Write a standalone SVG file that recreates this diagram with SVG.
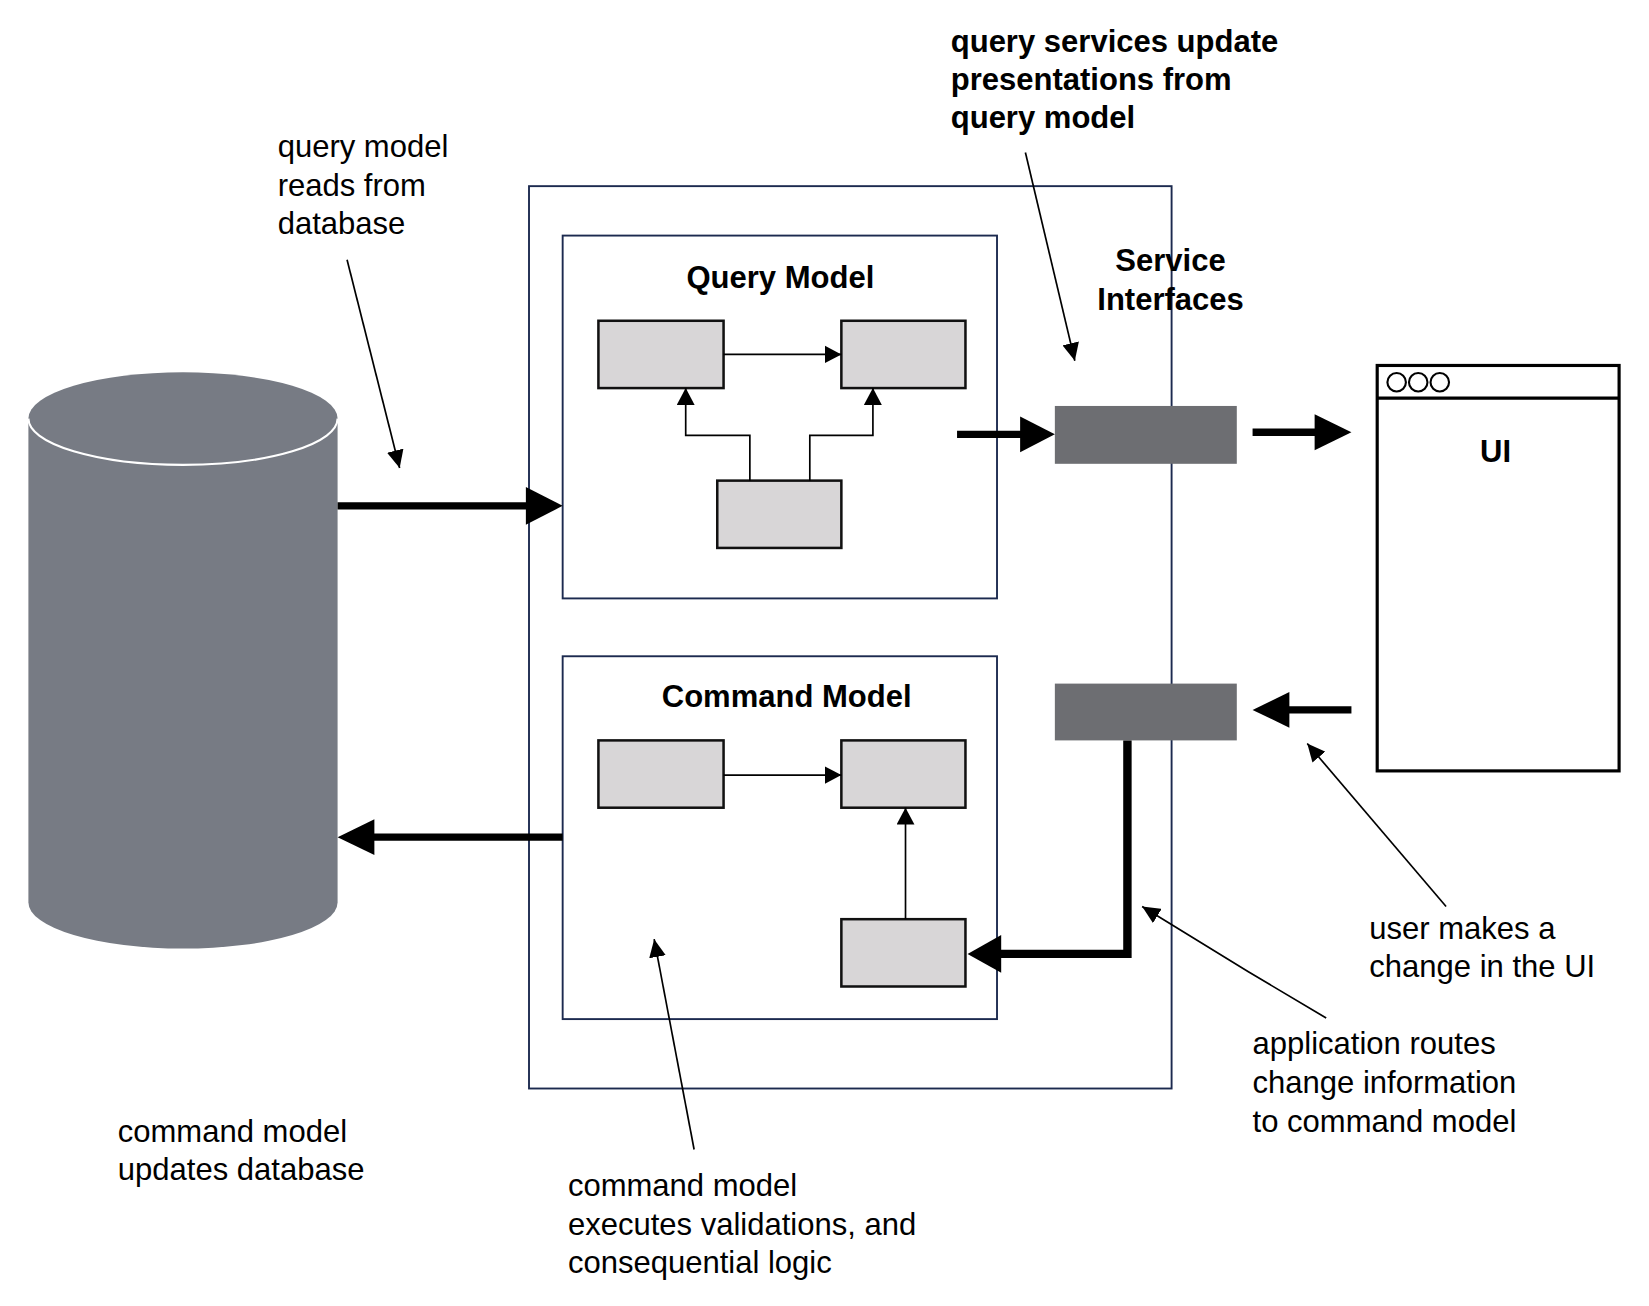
<svg xmlns="http://www.w3.org/2000/svg" width="1649" height="1306" viewBox="0 0 1649 1306">
<style>
  .txt { font-family: "Liberation Sans", Arial, sans-serif; font-size: 29.5px; fill: #000; }
  .bold { font-weight: bold; }
  .frame { fill: #fff; stroke: #1c2a4f; stroke-width: 1.8; }
  .comp { fill: #d8d6d7; stroke: #111; stroke-width: 2.4; }
  .svc { fill: #6d6e72; }
  .thin { fill: none; stroke: #000; stroke-width: 1.6; }
  .thick { fill: none; stroke: #000; stroke-width: 7; }
  .head { fill: #000; }
</style>
<defs>
  <marker id="ah" markerUnits="userSpaceOnUse" markerWidth="18" markerHeight="16" refX="17" refY="8" orient="auto">
    <path d="M0,0 L17,8 L0,16 Z" fill="#000"/>
  </marker>
  <marker id="ai" markerUnits="userSpaceOnUse" markerWidth="18" markerHeight="18" refX="16" refY="8.5" orient="auto">
    <path d="M0,0 L16,8.5 L0,17 Z" fill="#000"/>
  </marker>
</defs>
<rect width="1649" height="1306" fill="#fff"/>
<g transform="scale(1.0517)">
  <g id="database">
    <path d="M27,398 L27,858 A147,44 0 0 0 321,858 L321,398 Z" fill="#777b84"/>
    <ellipse cx="174" cy="398" rx="147" ry="44" fill="#777b84"/>
    <path d="M27,398 A147,44 0 0 0 321,398" fill="none" stroke="#fff" stroke-width="2"/>
  </g>

  <g id="application">
    <rect class="frame" x="503" y="177" width="611" height="858"/>
  </g>

  <g id="query-model">
    <rect class="frame" x="535" y="224" width="413" height="345"/>
    <text class="txt bold" x="742" y="274" text-anchor="middle">Query Model</text>
    <rect class="comp" x="569" y="305" width="119" height="64"/>
    <rect class="comp" x="800" y="305" width="118" height="64"/>
    <rect class="comp" x="682" y="457" width="118" height="64"/>
  </g>

  <g id="command-model">
    <rect class="frame" x="535" y="624" width="413" height="345"/>
    <text class="txt bold" x="748" y="672" text-anchor="middle">Command Model</text>
    <rect class="comp" x="569" y="704" width="119" height="64"/>
    <rect class="comp" x="800" y="704" width="118" height="64"/>
    <rect class="comp" x="800" y="874" width="118" height="64"/>
  </g>

  <g id="service-interfaces">
    <text class="txt bold" x="1113" y="258" text-anchor="middle">Service</text>
    <text class="txt bold" x="1113" y="295" text-anchor="middle">Interfaces</text>
    <rect id="query-service" class="svc" x="1003" y="386" width="173" height="55"/>
    <rect id="command-service" class="svc" x="1003" y="650" width="173" height="54"/>
  </g>

  <g id="ui">
    <rect x="1309.5" y="347.5" width="230" height="385.5" fill="#fff" stroke="#000" stroke-width="3"/>
    <line x1="1309.5" y1="378.5" x2="1539.5" y2="378.5" stroke="#000" stroke-width="3"/>
    <circle cx="1328" cy="363.5" r="8.8" fill="none" stroke="#000" stroke-width="2"/>
    <circle cx="1348.5" cy="363.5" r="8.8" fill="none" stroke="#000" stroke-width="2"/>
    <circle cx="1369" cy="363.5" r="8.8" fill="none" stroke="#000" stroke-width="2"/>
    <text class="txt bold" x="1422" y="439" text-anchor="middle">UI</text>
  </g>

  <g id="connectors">
    <!-- internal query model arrows -->
    <line class="thin" x1="688" y1="337" x2="800" y2="337" marker-end="url(#ai)"/>
    <polyline class="thin" points="713,457 713,414 652,414 652,369" marker-end="url(#ai)"/>
    <polyline class="thin" points="770,457 770,414 830,414 830,369" marker-end="url(#ai)"/>
    <!-- internal command model arrows -->
    <line class="thin" x1="688" y1="737" x2="800" y2="737" marker-end="url(#ai)"/>
    <line class="thin" x1="861" y1="874" x2="861" y2="768" marker-end="url(#ai)"/>

    <!-- thick flows -->
    <line class="thick" x1="321" y1="481" x2="502" y2="481"/>
    <polygon class="head" points="500,463 535,481 500,499"/>

    <line class="thick" x1="910" y1="413" x2="972" y2="413"/>
    <polygon class="head" points="970,396 1003,413 970,430"/>

    <line class="thick" x1="1191" y1="411" x2="1252" y2="411"/>
    <polygon class="head" points="1250,394 1285,411 1250,428"/>

    <line class="thick" x1="1285" y1="675" x2="1224" y2="675"/>
    <polygon class="head" points="1226,658 1191,675 1226,692"/>

    <polyline class="thick" points="1072,704 1072,907 950,907" style="stroke-width:8"/>
    <polygon class="head" points="952,889 920,907 952,925"/>

    <line class="thick" x1="535" y1="796" x2="354" y2="796"/>
    <polygon class="head" points="356,779 321,796 356,813"/>

    <!-- annotation pointers -->
    <line class="thin" x1="330" y1="247" x2="380" y2="445" marker-end="url(#ah)"/>
    <line class="thin" x1="975" y1="145" x2="1022" y2="343" marker-end="url(#ah)"/>
    <line class="thin" x1="1375" y1="862" x2="1243" y2="707" marker-end="url(#ah)"/>
    <polyline class="thin" points="1261,968 1187,924 1086,862" marker-end="url(#ah)"/>
    <line class="thin" x1="660" y1="1093" x2="622" y2="893" marker-end="url(#ah)"/>
  </g>

  <g id="labels">
    <text class="txt"><tspan x="264" y="149.5">query model</tspan><tspan x="264" y="186.3">reads from</tspan><tspan x="264" y="222.8">database</tspan></text>
    <text class="txt bold"><tspan x="904" y="49">query services update</tspan><tspan x="904" y="86">presentations from</tspan><tspan x="904" y="122">query model</tspan></text>
    <text class="txt"><tspan x="1302" y="893">user makes a</tspan><tspan x="1302" y="929">change in the UI</tspan></text>
    <text class="txt"><tspan x="1191" y="1002">application routes</tspan><tspan x="1191" y="1039">change information</tspan><tspan x="1191" y="1076">to command model</tspan></text>
    <text class="txt"><tspan x="112" y="1086">command model</tspan><tspan x="112" y="1122">updates database</tspan></text>
    <text class="txt"><tspan x="540" y="1137">command model</tspan><tspan x="540" y="1174">executes validations, and</tspan><tspan x="540" y="1210">consequential logic</tspan></text>
  </g>
</g>
</svg>
